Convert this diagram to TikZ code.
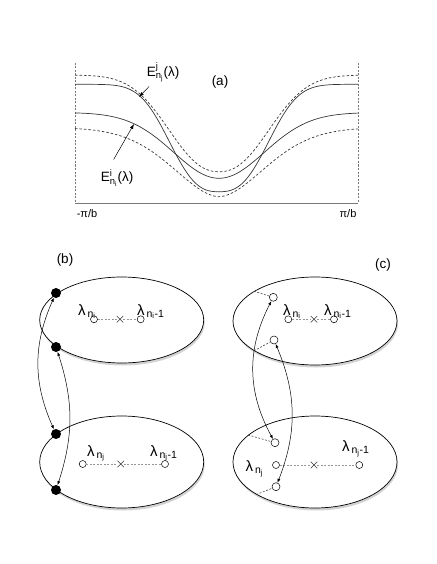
\documentclass[tikz,border=0pt]{standalone}
\usepackage{amsmath}
\usepackage{fontspec}
\setmainfont{Liberation Sans}
\usetikzlibrary{arrows.meta, shapes.geometric, shapes.misc, shadows}
\definecolor{bandgray}{RGB}{55,55,55}
\definecolor{guidegray}{RGB}{120,120,120}
\definecolor{linkgray}{RGB}{150,150,150}
\tikzset{
  cell/.style={
    ellipse,
    draw=black,
    line width=0.7pt,
    fill=white,
    minimum width=164pt,
    minimum height=88pt,
    inner sep=0pt,
    drop shadow={shadow xshift=1pt, shadow yshift=-2.5pt, opacity=0.35}
  },
  site/.style={circle, draw=black, line width=0.5pt, fill=white, minimum size=7pt, inner sep=0pt},
  spin/.style={circle, fill=black, minimum size=10pt, inner sep=0pt},
  gap/.style={cross out, draw=bandgray, line width=0.5pt, minimum size=6pt, inner sep=0pt},
  link/.style={dashed, dash pattern=on 2pt off 1.5pt, draw=linkgray, line width=0.6pt},
  tether/.style={dashed, dash pattern=on 2pt off 1.5pt, draw=bandgray, line width=0.5pt},
  hop/.style={{Latex[length=4pt,width=3pt]}-{Latex[length=4pt,width=3pt]}, line width=0.5pt},
  tag/.style={-{Latex[length=5pt,width=3.5pt]}, line width=0.5pt},
  band/.style={line width=0.7pt, draw=bandgray},
  envelope/.style={band, dash pattern=on 2.5pt off 2pt},
  guide/.style={draw=guidegray, line width=0.6pt, dash pattern=on 2pt off 1.5pt},
  axisline/.style={draw=guidegray, line width=1pt},
  lbl/.style={font=\fontsize{13.5}{15}\selectfont, inner sep=1pt},
  ticklbl/.style={font=\fontsize{11}{13}\selectfont, inner sep=0pt},
  lam/.style={font=\fontsize{15}{17}\selectfont, inner sep=0pt, anchor=base west}
}
% profile of one band: top, depth, width, power
\newcommand\bandy[4]{#1+#2*exp(-(pow((abs(\x-219)+0.01)/#3,#4)))}

\begin{document}
\begin{tikzpicture}[x=1pt, y=-1pt]
  \useasboundingbox (0,0) rectangle (436,564);

  % (a) bands
  \draw[guide] (75,63) -- (75,203);
  \draw[guide] (358,63) -- (358,203);
  \draw[axisline] (75,203) -- (358,203);
  \draw[envelope] plot[domain=75:358, samples=90, smooth] (\x, {\bandy{75}{96.7}{64}{2.3}});
  \draw[band] plot[domain=75:358, samples=90, smooth] (\x, {\bandy{84.3}{107.4}{59}{2.7}});
  \draw[band] plot[domain=75:358, samples=90, smooth] (\x, {\bandy{112.5}{65.8}{64}{2.0}});
  \draw[envelope] plot[domain=75:358, samples=90, smooth] (\x, {\bandy{127.5}{69.2}{65}{1.8}});

  \node[lbl] (pa) at (220,82) {(a)};
  \node[ticklbl] (lo) at (87,214) {-π/b};
  \node[ticklbl] (hi) at (348,214) {π/b};
  \node[lbl] (ej) at (163,72) {E$^{\text{j}}_{\text{n}_{\text{j}}}$(λ)};
  \node[lbl] (ei) at (117,178) {E$^{\text{i}}_{\text{n}_{\text{i}}}$(λ)};
  \coordinate (ejtip) at (139,97);
  \coordinate (eitip) at (134,124);
  \draw[tag, shorten <=5pt] (ej) -- (ejtip);
  \draw[tag, shorten <=10pt] (ei.130) -- (eitip);

  % (b)
  \node[lbl] (pb) at (65,260) {(b)};
  \node[cell, minimum height=86pt] (tl) at (121.7,320) {};
  \node[cell, minimum height=92pt] (bl) at (121.7,462) {};
  \node[spin] (s1) at (56,293) {};
  \node[spin] (s2) at (56,347) {};
  \node[spin] (s3) at (56,434) {};
  \node[spin] (s4) at (56,490) {};

  \node[site] (a1) at (94,319.3) {};
  \node[gap]  (x1) at (120,319.3) {};
  \node[site] (b1) at (140.7,319.3) {};
  \draw[link] (a1) -- (x1) -- (b1);
  \node[lam] (la1) at (78,315) {λ$_{\,\text{n}_{\text{i}}}$};
  \node[lam] (lb1) at (137,315) {λ$_{\,\text{n}_{\text{i}}\text{-1}}$};

  \node[site] (a2) at (82.7,464) {};
  \node[gap]  (x2) at (120.7,464) {};
  \node[site] (b2) at (165,464) {};
  \draw[link] (a2) -- (x2) -- (b2);
  \node[lam] (la2) at (87,456) {λ$_{\,\text{n}_{\text{j}}}$};
  \node[lam] (lb2) at (150,456) {λ$_{\,\text{n}_{\text{j}}\text{-1}}$};

  \draw[hop] (s1) to[bend right=24] (s3);
  \draw[hop] (s2) to[bend left=18] (s4);

  % (c)
  \node[lbl] (pc) at (383,265) {(c)};
  \node[cell] (tr) at (315,321) {};
  \node[cell, minimum height=92pt] (br) at (315,462) {};

  \node[site, minimum size=8pt] (c1) at (273.3,297.3) {};
  \node[site, minimum size=8pt] (c2) at (274,340) {};
  \draw[tether] (tr.154) -- (c1);
  \draw[tether] (tr.206) -- (c2);
  \node[site] (a3) at (288.3,319.3) {};
  \node[gap]  (x3) at (314,319.3) {};
  \node[site] (b3) at (334,319.3) {};
  \draw[link] (a3) -- (x3) -- (b3);
  \node[lam] (la3) at (283,315) {λ$_{\,\text{n}_{\text{i}}}$};
  \node[lam] (lb3) at (324,315) {λ$_{\,\text{n}_{\text{i}}\text{-1}}$};

  \node[site, minimum size=8pt] (c3) at (275,442.7) {};
  \node[site, minimum size=8pt] (c4) at (276,486.7) {};
  \draw[tether] (br.158) -- (c3);
  \draw[tether] (br.209) -- (c4);
  \node[site] (a4) at (276,465) {};
  \node[gap]  (x4) at (314,465) {};
  \node[site] (b4) at (359.3,465) {};
  \draw[link] (a4) -- (x4) -- (b4);
  \node[lam] (la4) at (245.5,471.7) {λ$_{\,\text{n}_{\text{j}}}$};
  \node[lam] (lb4) at (342,451.7) {λ$_{\,\text{n}_{\text{j}}\text{-1}}$};

  \draw[hop] (c1) to[bend right=28] (c3);
  \draw[hop] (c2) to[bend left=22] (c4);
\end{tikzpicture}
\end{document}
